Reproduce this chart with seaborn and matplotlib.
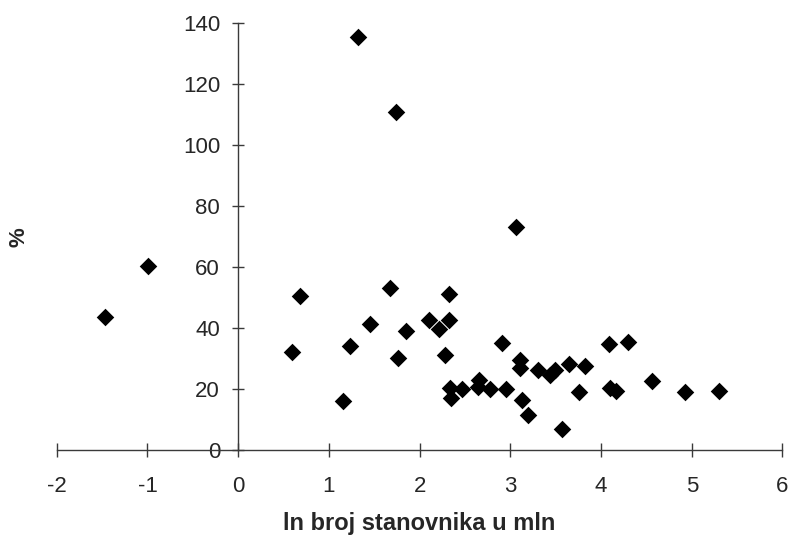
import matplotlib
matplotlib.use("Agg")
import matplotlib.pyplot as plt
import pandas as pd
import seaborn as sns

# ln of population (millions) vs. percentage
ln_pop = [-1.47, -0.99, 0.59, 0.68, 1.16, 1.23, 1.32, 1.45, 1.67, 1.74,
          1.76, 1.85, 2.10, 2.21, 2.28, 2.32, 2.32, 2.34, 2.35, 2.47,
          2.64, 2.66, 2.78, 2.91, 2.95, 3.06, 3.11, 3.11, 3.13, 3.19,
          3.30, 3.44, 3.49, 3.57, 3.65, 3.76, 3.82, 4.09, 4.10, 4.16,
          4.30, 4.56, 4.93, 5.30]
pct = [43.5, 60.5, 32.3, 50.4, 16.1, 34.2, 135.6, 41.3, 53.3, 111.0,
       30.2, 39.1, 42.5, 39.7, 31.2, 42.5, 51.3, 20.5, 17.2, 20.1,
       20.6, 23.0, 20.0, 35.1, 20.0, 73.1, 29.6, 26.9, 16.4, 11.5,
       26.3, 24.7, 26.3, 6.8, 28.2, 18.9, 27.6, 34.8, 20.3, 19.2,
       35.4, 22.5, 18.9, 19.5]
x_ticks = [-2, -1, 0, 1, 2, 3, 4, 5, 6]
y_ticks = [0, 20, 40, 60, 80, 100, 120, 140]

df = pd.DataFrame({'ln': ln_pop, 'pct': pct})

sns.set_style("white")
plt.rcParams['font.family'] = ['Liberation Sans', 'DejaVu Sans']
plt.rcParams['axes.unicode_minus'] = False

fig = plt.figure(figsize=(7.9, 5.38), dpi=100)
ax = fig.add_axes([0.0718, 0.1636, 0.9187, 0.7931])

sns.scatterplot(data=df, x='ln', y='pct', marker='D', color='black',
                s=80, linewidth=0, ax=ax, clip_on=False, zorder=3)

ax.set_xlim(-2, 6)
ax.set_ylim(0, 140)
ax.set_xticks(x_ticks)
ax.set_yticks(y_ticks)

axis_col = '#3a3a3a'
for side in ['top', 'right']:
    ax.spines[side].set_visible(False)
ax.spines['left'].set_position(('data', 0))
for side in ['left', 'bottom']:
    ax.spines[side].set_color(axis_col)
    ax.spines[side].set_linewidth(1.0)

ax.tick_params(axis='x', direction='inout', length=10, width=1.0,
               color=axis_col, labelsize=16, pad=14, bottom=True)
ax.tick_params(axis='y', direction='inout', length=9, width=1.0,
               color=axis_col, labelsize=16, pad=8.5, left=True)

ax.set_xlabel('ln broj stanovnika u mln', fontsize=17, fontweight='bold')
ax.xaxis.set_label_coords(0.5, -0.145)
ax.set_ylabel('%', fontsize=16, fontweight='bold')
ax.yaxis.set_label_coords(-0.037, 0.5)

fig.savefig('out.png', dpi=100)
